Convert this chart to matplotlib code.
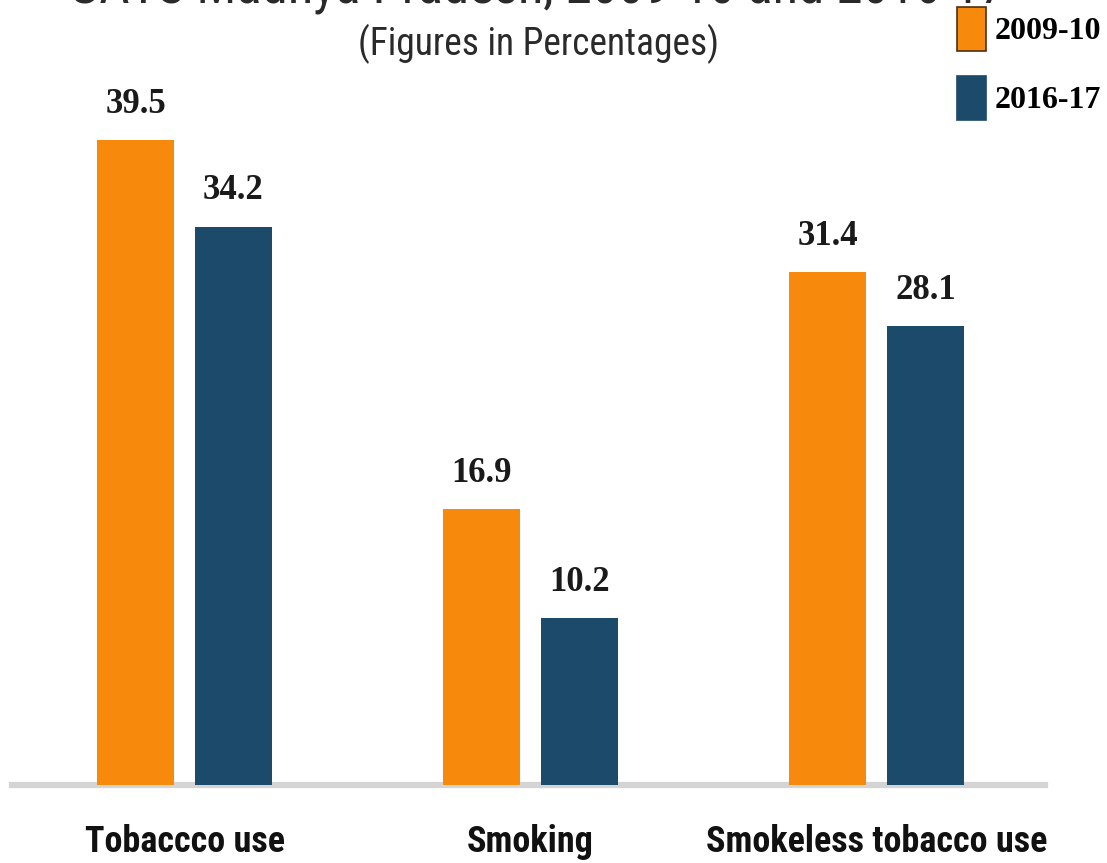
import matplotlib
matplotlib.use("Agg")
import matplotlib.pyplot as plt
import numpy as np
from matplotlib.patches import Patch

# GATS Madhya Pradesh tobacco use, 2009-10 vs 2016-17 (%)
categories = ["Tobaccco use", "Smoking", "Smokeless tobacco use"]
years = ["2009-10", "2016-17"]
gats_2009 = [39.5, 16.9, 31.4]
gats_2016 = [34.2, 10.2, 28.1]

ORANGE = "#F7890C"
NAVY = "#1B4A6B"

NARROW = ["Liberation Sans Narrow", "Roboto Condensed", "DejaVu Sans"]
SERIF = ["Liberation Serif", "DejaVu Serif"]

W, H = 1107, 863
fig = plt.figure(figsize=(W / 100, H / 100), dpi=100)
fig.patch.set_facecolor("white")

# axes spans full width, bottom sits on the baseline
ax = fig.add_axes([0, 78 / H, 1, 785 / H])
x = np.arange(len(categories))
width = 0.225
offset = 0.1416

b1 = ax.bar(x - offset, gats_2009, width, color=ORANGE, zorder=3)
b2 = ax.bar(x + offset, gats_2016, width, color=NAVY, zorder=3)

ax.set_xlim(-184.5 / 346, (W - 184.5) / 346)
ax.set_ylim(0, 785 / 16.33)

# grey baseline
ax.axhline(0, xmin=12 / W, xmax=1045 / W, color="#d4d4d4", lw=4.5, zorder=2, clip_on=False)

for bars in (b1, b2):
    ax.bar_label(bars, fmt="%.1f", padding=14, fontsize=25, fontweight="bold",
                 family=SERIF, color="#1a1a1a")

ax.set_xticks(x)
ax.set_xticklabels(categories, fontsize=26, fontweight="bold", family=NARROW, color="#111111")
ax.tick_params(axis="x", length=0, pad=28)
ax.set_yticks([])
for s in ax.spines.values():
    s.set_visible(False)
ax.patch.set_alpha(0)

# titles (main title runs off the top edge)
fig.text(537 / W, 1 - 3 / H, "GATS Madhya Pradesh, 2009-10 and 2016-17", ha="center",
         va="baseline", fontsize=38, family=NARROW, color="#2a2a2a")
fig.text(538 / W, 1 - 55 / H, "(Figures in Percentages)", ha="center", va="baseline",
         fontsize=27, family=NARROW, color="#2a2a2a")

handles = [Patch(facecolor=ORANGE, edgecolor="#4a3010", lw=1.2),
           Patch(facecolor=NAVY, edgecolor=NAVY, lw=1.2)]
leg = fig.legend(handles, years, loc="upper left", bbox_to_anchor=(957 / W, 1 - 7 / H),
                 frameon=False, borderpad=0, borderaxespad=0, handlelength=0.91,
                 handleheight=1.745, handletextpad=0.28, labelspacing=0.78,
                 prop={"family": SERIF, "weight": "bold", "size": 23})

fig.savefig("out.png", dpi=100, facecolor="white")
